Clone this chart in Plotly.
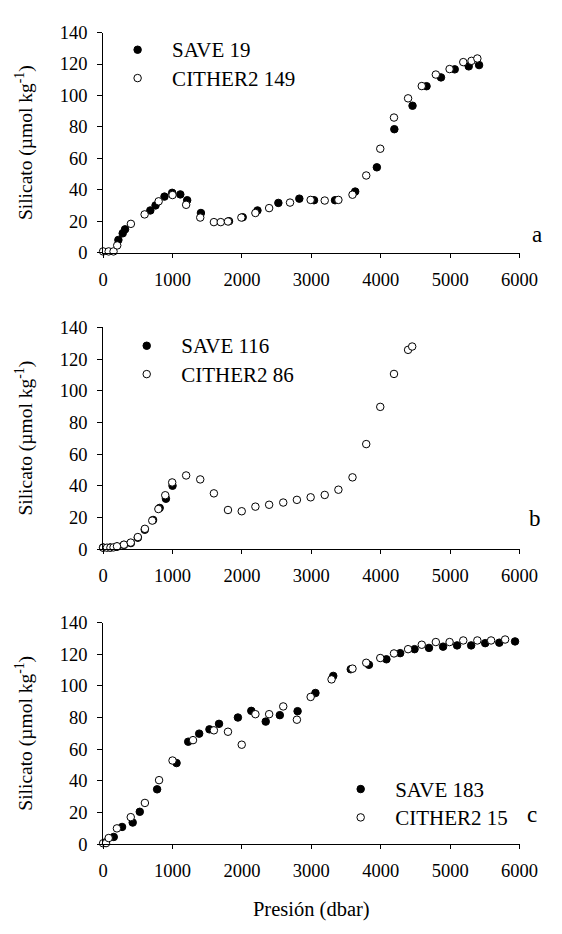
import plotly.graph_objects as go

# ---------------- data ----------------
# Panel a
save19_p = [220, 282, 316, 680, 755, 884, 995, 1112, 1211, 1409, 1814, 2011, 2224, 2525, 2827, 3039, 3341, 3632, 3944, 4196, 4458, 4660, 4868, 5066, 5268, 5417]
save19_si = [8.3, 12.5, 15.0, 27.0, 30.2, 35.8, 38.2, 37.2, 33.5, 25.4, 20.2, 22.7, 27.0, 31.8, 34.5, 33.5, 33.5, 39.0, 54.4, 78.6, 93.5, 105.9, 111.5, 116.6, 118.5, 119.3]
cith149_p = [0, 80, 150, 203, 400, 598, 800, 1000, 1196, 1399, 1596, 1695, 1799, 1992, 2194, 2392, 2693, 2990, 3193, 3390, 3593, 3791, 3993, 4191, 4394, 4591, 4794, 4992, 5189, 5308, 5392]
cith149_si = [1.0, 1.0, 1.0, 4.8, 18.5, 24.5, 32.8, 36.8, 30.6, 22.5, 19.6, 19.6, 20.0, 22.5, 25.4, 28.5, 32.0, 33.7, 33.3, 33.7, 37.0, 49.2, 66.2, 86.0, 98.2, 106.0, 113.3, 116.8, 121.2, 122.0, 123.5]

# Panel b
save116_p = [0, 100, 200, 300, 400, 500, 600, 720, 815, 905, 1000]
save116_si = [1.0, 1.0, 1.5, 2.6, 3.8, 7.2, 12.2, 18.4, 26.0, 31.8, 40.0]
cith86_p = [0, 55, 105, 150, 200, 300, 398, 500, 602, 708, 796, 895, 995, 1196, 1399, 1596, 1799, 1997, 2194, 2392, 2595, 2792, 2990, 3193, 3390, 3593, 3791, 3993, 4191, 4394, 4453]
cith86_si = [0.9, 0.9, 0.9, 1.1, 1.8, 2.8, 4.1, 7.6, 12.8, 18.0, 25.3, 34.0, 42.1, 46.5, 44.0, 35.2, 24.7, 23.9, 26.8, 28.0, 29.4, 31.1, 32.7, 34.2, 37.5, 45.3, 66.3, 89.8, 110.6, 125.8, 127.9]

# Panel c
save183_p = [30, 153, 273, 426, 528, 778, 1058, 1226, 1384, 1532, 1670, 1942, 2135, 2343, 2546, 2802, 3059, 3316, 3568, 3830, 4082, 4280, 4487, 4695, 4898, 5100, 5303, 5505, 5708, 5935]
save183_si = [1.0, 4.5, 10.8, 13.6, 20.4, 34.6, 51.2, 64.7, 69.8, 72.5, 76.0, 80.0, 84.2, 77.4, 81.5, 84.0, 95.5, 106.3, 110.5, 113.3, 116.8, 120.7, 123.2, 124.0, 124.8, 125.6, 125.6, 127.0, 127.3, 128.1]
cith15_p = [0, 42, 80, 199, 398, 602, 806, 1000, 1295, 1596, 1799, 1997, 2194, 2392, 2595, 2792, 2990, 3291, 3593, 3791, 3993, 4191, 4394, 4591, 4794, 4992, 5189, 5392, 5590, 5792]
cith15_si = [0.5, 0.6, 3.8, 9.9, 17.0, 26.0, 40.4, 52.8, 65.7, 71.9, 71.0, 62.8, 82.1, 82.1, 87.0, 78.6, 93.0, 104.1, 110.9, 114.6, 117.6, 120.5, 123.2, 126.0, 127.7, 127.7, 128.7, 128.7, 128.7, 129.3]

x_ticks = [0, 1000, 2000, 3000, 4000, 5000, 6000]
y_ticks = [0, 20, 40, 60, 80, 100, 120, 140]

panels = [
    ("SAVE 19", save19_p, save19_si, "CITHER2 149", cith149_p, cith149_si, "a"),
    ("SAVE 116", save116_p, save116_si, "CITHER2 86", cith86_p, cith86_si, "b"),
    ("SAVE 183", save183_p, save183_si, "CITHER2 15", cith15_p, cith15_si, "c"),
]

W, H = 562, 934
FONT = "Liberation Serif"
# pixel geometry of the plot areas
x0px, x1px = 102.5, 537.5
yranges_px = [(23.0, 248.3), (324.3, 550.9), (626.0, 852.3)]
legend_pos = [(102.5, 21), (112, 323.5), (335.5, 776.5)]
letter_xy = [(556, 229), (554, 520), (551, 822)]


def big(s):
    return "<span style='font-size:21px'>" + s + "</span>"


fig = go.Figure()
for i, (n1, p1, s1, n2, p2, s2, lab) in enumerate(panels):
    k = "" if i == 0 else str(i + 1)
    leg = "legend" if i == 0 else "legend" + str(i + 1)
    fig.add_trace(go.Scatter(x=p1, y=s1, mode="markers", name=big(n1),
                             xaxis="x" + k, yaxis="y" + k, legend=leg, cliponaxis=False,
                             marker=dict(size=7.5, color="black", line=dict(color="black", width=1))))
    fig.add_trace(go.Scatter(x=p2, y=s2, mode="markers", name=big(n2),
                             xaxis="x" + k, yaxis="y" + k, legend=leg, cliponaxis=False,
                             marker=dict(size=7.5, color="white", line=dict(color="black", width=1))))
    top, bot = yranges_px[i]
    common = dict(showgrid=False, zeroline=False, showline=True, linecolor="black", linewidth=1,
                  ticks="outside", tickcolor="black", tickwidth=1,
                  tickfont=dict(family=FONT, size=18.5, color="black"))
    fig.layout["xaxis" + k] = dict(domain=[x0px / W, x1px / W], range=[0, 6000], tickvals=x_ticks,
                                   ticklen=4, anchor="y" + k, ticklabelstandoff=6, **common)
    fig.layout["yaxis" + k] = dict(domain=[1 - bot / H, 1 - top / H], range=[0, 140], tickvals=y_ticks,
                                   ticklen=5, anchor="x" + k, ticklabelstandoff=6,
                                   title=dict(text="Silicato (µmol kg<sup>-1</sup>)", standoff=21,
                                              font=dict(family=FONT, size=19.5, color="black")),
                                   **common)
    lx, ly = legend_pos[i]
    fig.layout[leg] = dict(x=lx / W, y=1 - ly / H, xanchor="left", yanchor="top",
                           bgcolor="rgba(0,0,0,0)", itemwidth=59,
                           font=dict(family=FONT, size=19.5, color="black"), tracegroupgap=0)
    tx, ty = letter_xy[i]
    fig.add_annotation(text=lab, x=tx / W, y=1 - ty / H, xref="paper", yref="paper",
                       xanchor="center", yanchor="middle", showarrow=False,
                       font=dict(family=FONT, size=23, color="black"))

fig.layout.xaxis3.title = dict(text="Presión (dbar)", standoff=21, font=dict(family=FONT, size=20.5, color="black"))

fig.update_layout(width=W, height=H, margin=dict(l=0, r=0, t=0, b=0),
                  paper_bgcolor="white", plot_bgcolor="white", showlegend=True)

fig.write_html("out.html")
